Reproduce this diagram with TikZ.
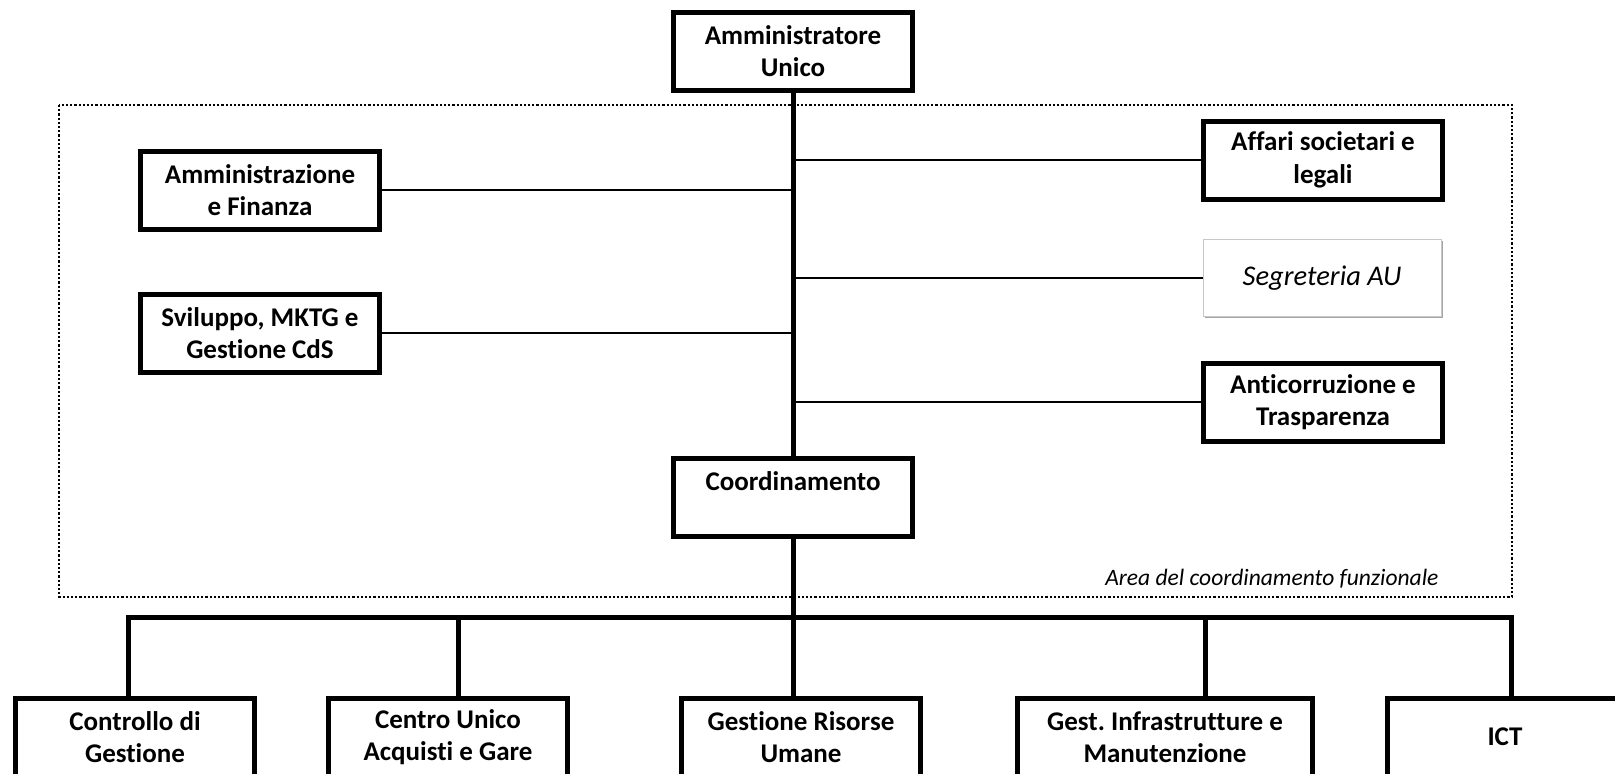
\documentclass[tikz,border=0pt]{standalone}
\usepackage{fontspec}
\setmainfont{Carlito}[Ligatures=NoCommon]
\usepackage{tikz}
\usetikzlibrary{calc}
\usetikzlibrary{shadows}

\tikzset{
    unitbox/.style={draw, line width=5pt, minimum width=239pt, minimum height=78pt,
        inner sep=0pt, align=center, font=\fontsize{27}{32.5}\selectfont\bfseries},
    staffbox/.style={draw=black!22, line width=1pt, fill=white, minimum width=238pt,
        minimum height=77pt, inner sep=0pt, font=\fontsize{28.5}{33}\selectfont\itshape,
        drop shadow={shadow xshift=1.5pt, shadow yshift=-1.5pt, fill=black, opacity=0.35}},
    mainlink/.style={line width=5pt},
    sidelink/.style={line width=2pt},
    areaframe/.style={line width=2.5pt, dash pattern=on 2.2pt off 2pt}
}

\begin{document}
\begin{tikzpicture}[x=1pt, y=-1pt]
        \useasboundingbox (0,0) rectangle (1615,774);
        \clip (0,0) rectangle (1615,774);

        \draw [areaframe] (59,105) rectangle (1512,597);
        \node (arealabel) at (1442,585) [anchor=base east, font=\fontsize{23.5}{28}\selectfont\itshape] {Area del coordinamento funzionale};

        \node (au) at (793,51) [unitbox] {Amministratore\\Unico};
        \node (coord) at (793,497) [unitbox] {Coordinamento\\\mbox{}};

        \node (amm) at (260,190) [unitbox] {Amministrazione\\e Finanza};
        \node (svil) at (260,333) [unitbox] {Sviluppo, MKTG e\\Gestione CdS};

        \node (aff) at (1323,160) [unitbox] {Affari societari e\\legali};
        \node (segr) at (1322,278) [staffbox] {Segreteria AU};
        \node (anti) at (1323,402) [unitbox] {Anticorruzione e\\Trasparenza};

        \node (cdg) at (135,737) [unitbox] {Controllo di\\Gestione};
        \node (cua) at (448,737) [unitbox] {Centro Unico\\Acquisti e Gare};
        \node (gru) at (801,737) [unitbox] {Gestione Risorse\\Umane};
        \node (gim) at (1165,737) [unitbox, minimum width=295pt] {Gest.\ Infrastrutture e\\Manutenzione};
        \node (ict) at (1505,737) [unitbox, minimum width=235pt] {ICT};

        \draw [mainlink] (au) -- (coord);
        \foreach \unit in {amm, svil}
            \draw [sidelink] (\unit.east) -- (\unit.east -| au.south);
        \foreach \unit in {aff, segr, anti}
            \draw [sidelink] (\unit.west) -- (\unit.west -| au.south);

        \coordinate (drop1) at (128,617);
        \coordinate (drop2) at (458,617);
        \coordinate (drop4) at (1205,617);
        \coordinate (drop5) at (1511,617);

        \draw [mainlink] (coord.south) -- (coord.south |- gru.north);
        \draw [mainlink] (drop1 |- cdg.north) -- (drop1) -- (drop5) -- (drop5 |- ict.north);
        \draw [mainlink] (drop2) -- (drop2 |- cua.north);
        \draw [mainlink] (drop4) -- (drop4 |- gim.north);
    \end{tikzpicture}
\end{document}
